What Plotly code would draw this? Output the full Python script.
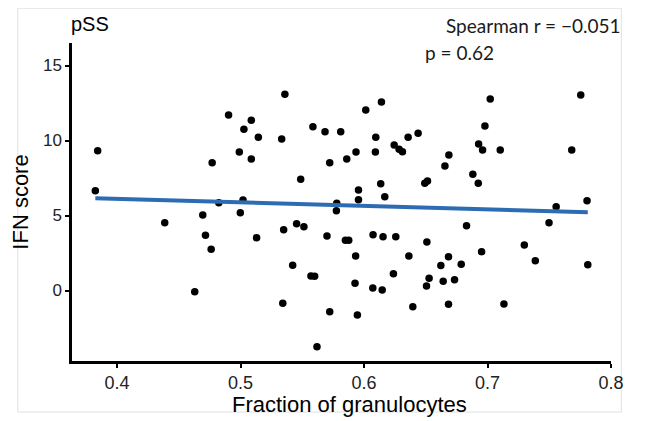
import plotly.graph_objects as go

granulocyte_fraction = [
    0.3843, 0.3824, 0.4386, 0.4694, 0.4716, 0.4762, 0.4629, 0.4998, 0.5130, 0.4824,
    0.5020, 0.4903, 0.5087, 0.5027, 0.5144, 0.4990, 0.5087, 0.4770, 0.5359, 0.5333,
    0.5586, 0.5684, 0.5811, 0.6014, 0.6141, 0.6095, 0.5935, 0.5860, 0.5722, 0.5487,
    0.6092, 0.6244, 0.6284, 0.6311, 0.6357, 0.6438, 0.6687, 0.6655, 0.6492, 0.6514,
    0.6135, 0.5955, 0.6168, 0.5955, 0.5779, 0.5776, 0.7022, 0.7755, 0.6979, 0.6928,
    0.6960, 0.7103, 0.7682, 0.6881, 0.6925, 0.7556, 0.7806, 0.7498, 0.6830, 0.7298,
    0.6952, 0.7387, 0.7812, 0.6684, 0.6622, 0.6787, 0.6641, 0.6733, 0.6684, 0.7133,
    0.5349, 0.5454, 0.5513, 0.5700, 0.5849, 0.5876, 0.6073, 0.6154, 0.6257, 0.6509,
    0.5932, 0.6363, 0.5422, 0.5570, 0.5600, 0.6238, 0.6527, 0.6506, 0.5927, 0.6071,
    0.6147, 0.5342, 0.5722, 0.5946, 0.6395, 0.5619,
]
ifn_score = [
    9.32, 6.65, 4.52, 5.03, 3.68, 2.75, -0.08, 5.19, 3.52, 5.85,
    6.03, 11.70, 11.35, 10.75, 10.21, 9.23, 8.77, 8.52, 13.08, 10.10,
    10.92, 10.59, 10.59, 12.03, 12.57, 10.21, 9.23, 8.77, 8.52, 7.41,
    9.23, 9.70, 9.41, 9.25, 10.21, 10.48, 9.03, 8.30, 7.15, 7.30,
    7.12, 6.70, 6.25, 6.05, 5.81, 5.32, 12.77, 13.03, 10.97, 9.77,
    9.37, 9.37, 9.37, 7.75, 7.15, 5.59, 5.99, 4.52, 4.32, 3.03,
    2.59, 1.99, 1.72, 2.25, 1.66, 1.75, 0.61, 0.72, -0.92, -0.90,
    4.05, 4.45, 4.25, 3.63, 3.35, 3.35, 3.72, 3.59, 3.59, 3.23,
    2.30, 2.30, 1.68, 0.97, 0.95, 1.12, 0.81, 0.30, 0.48, 0.17,
    0.03, -0.85, -1.41, -1.63, -1.08, -3.75,
]

fit_x = [0.3824, 0.7812]
fit_y = [6.15, 5.21]

x_ticks = [0.4, 0.5, 0.6, 0.7, 0.8]
x_tick_labels = ["0.4", "0.5", "0.6", "0.7", "0.8"]
y_ticks = [0, 5, 10, 15]
y_tick_labels = ["0", "5", "10", "15"]

fig = go.Figure()
fig.add_trace(go.Scatter(
    x=granulocyte_fraction, y=ifn_score, mode="markers",
    marker=dict(color="black", size=7.5, line=dict(width=0)),
    cliponaxis=False, showlegend=False, hoverinfo="x+y",
))
fig.add_trace(go.Scatter(
    x=fit_x, y=fit_y, mode="lines",
    line=dict(color="#2d6cb3", width=4),
    showlegend=False, hoverinfo="skip",
))

helv = "Liberation Sans, Arial, Helvetica, sans-serif"
ann_font = "Lato, Noto Sans, sans-serif"

# page body has an 8px margin, so figure coordinates = page coordinates - 8
OFF = 8
FW, FH = 630, 413
L, R, T, B = 71.7 - OFF, 610.7 - OFF, 43.3 - OFF, 361 - OFF
W, H = R - L, B - T


def px(xp):
    return (xp - OFF - L) / W


def py(yp):
    return (B - (yp - OFF)) / H


fig.update_layout(
    width=FW, height=FH,
    margin=dict(l=L, r=FW - R, t=T, b=FH - B, autoexpand=False),
    paper_bgcolor="white", plot_bgcolor="white",
    font=dict(family=helv, color="black"),
    xaxis=dict(
        range=[0.3635, 0.8], tickvals=x_ticks, ticktext=x_tick_labels,
        showgrid=False, zeroline=False, showline=True, linecolor="black", linewidth=2.5,
        ticks="outside", ticklen=4, tickwidth=2, tickcolor="black", automargin=False,
        tickfont=dict(size=18, color="#222", family=helv),
    ),
    yaxis=dict(
        range=[-4.7, 16.5], tickvals=y_ticks, ticktext=y_tick_labels,
        showgrid=False, zeroline=False, showline=True, linecolor="black", linewidth=2.5,
        ticks="outside", ticklen=4, tickwidth=2, tickcolor="black", automargin=False,
        tickfont=dict(size=17, color="#222", family=helv),
        title=dict(text="IFN score", font=dict(size=22, family=helv)),
    ),
    annotations=[
        dict(text="Fraction of granulocytes", xref="paper", yref="paper",
             x=px(349), y=py(404), xanchor="center", yanchor="middle", showarrow=False,
             font=dict(size=22, family=helv, color="black")),
        dict(text="pSS", xref="paper", yref="paper", x=px(69), y=py(24),
             xanchor="left", yanchor="middle", showarrow=False,
             font=dict(size=20, family=helv, color="black")),
        dict(text="Spearman r = \u22120.051", xref="paper", yref="paper",
             x=px(623), y=py(25.5),
             xanchor="right", yanchor="middle", showarrow=False,
             font=dict(size=19, family=ann_font, color="#1a1a1a")),
        dict(text="p = 0.62", xref="paper", yref="paper",
             x=px(423), y=py(52.5),
             xanchor="left", yanchor="middle", showarrow=False,
             font=dict(size=19, family=ann_font, color="#1a1a1a")),
    ],
    shapes=[
        dict(type="rect", xref="paper", yref="paper",
             x0=px(17.5), x1=px(621), y0=py(412), y1=py(8.5),
             line=dict(color="#e0e0e0", width=1), layer="below"),
    ],
)

fig.write_html("out.html")
